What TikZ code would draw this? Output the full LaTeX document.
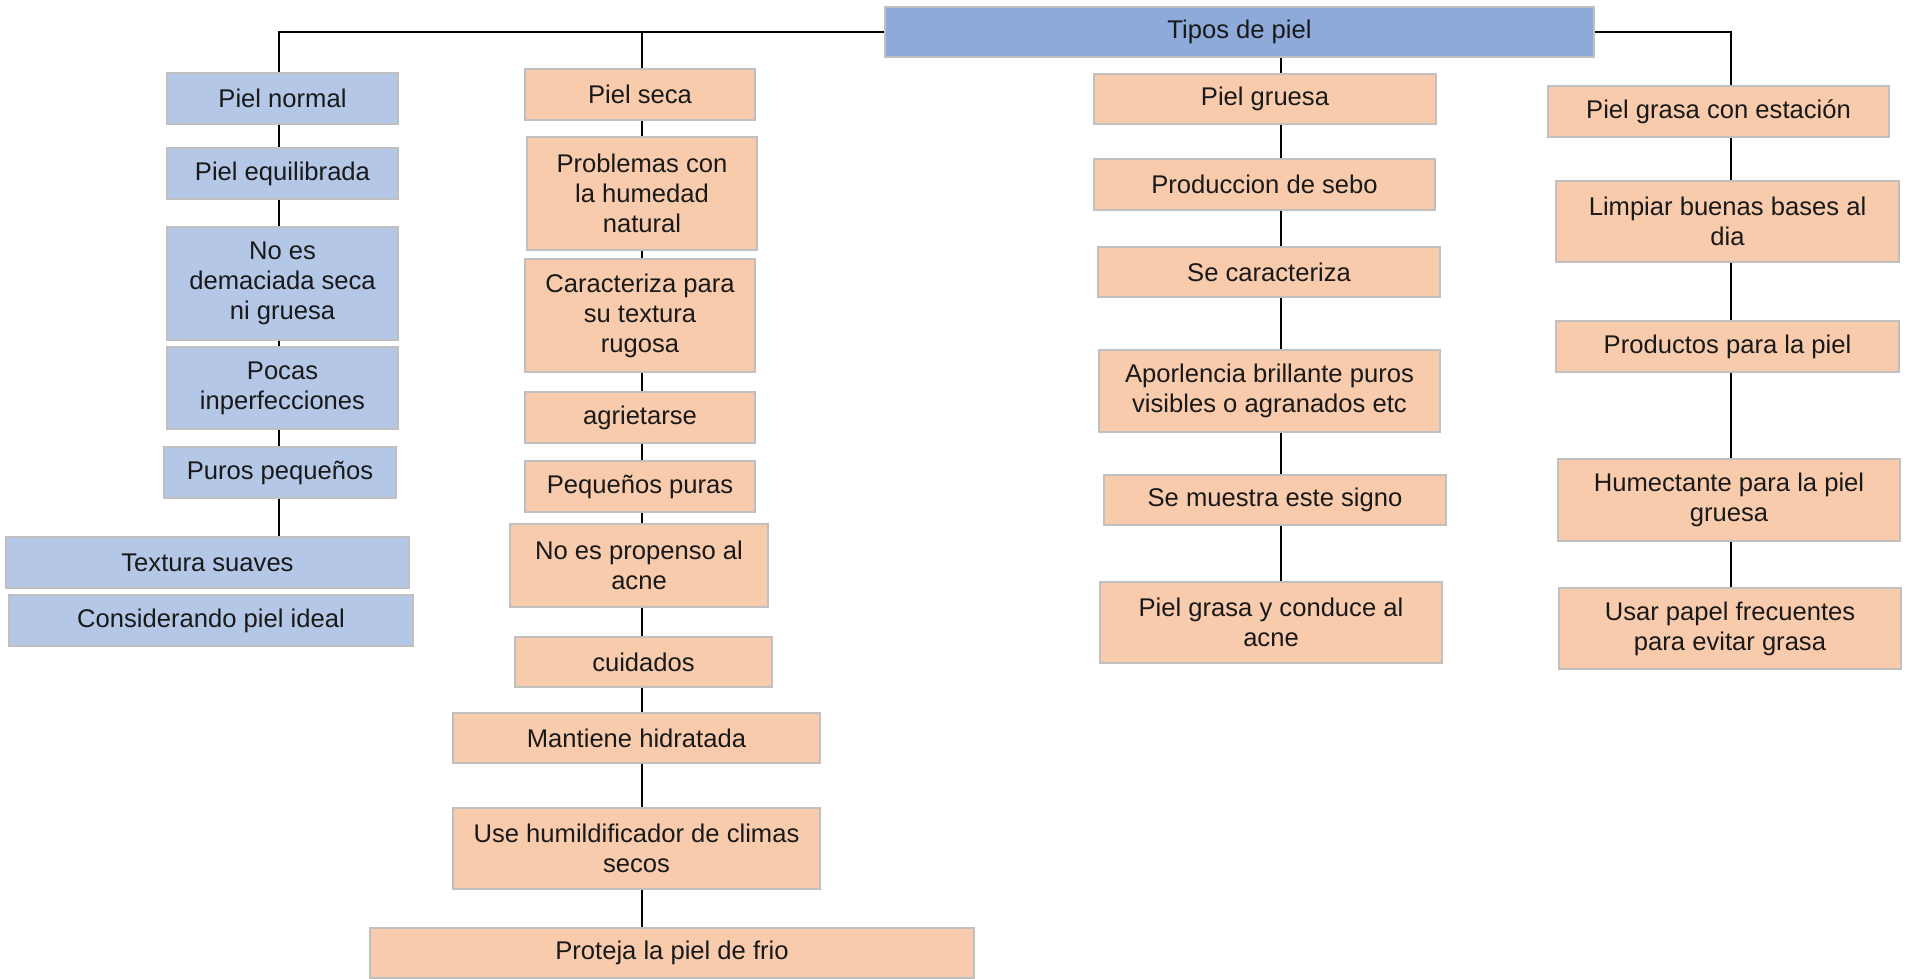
\documentclass[tikz,border=0pt]{standalone}
\usepackage{fontspec}
\setmainfont{Liberation Sans}
\definecolor{rootblue}{HTML}{8EAADB}
\definecolor{lightblue}{HTML}{B4C7E7}
\definecolor{peach}{HTML}{F8CBAD}
\definecolor{edge}{HTML}{C0C0C0}
\tikzset{
  box/.style={draw=edge, line width=0.7pt, inner sep=0pt, align=center,
    font=\fontsize{12.8}{15}\selectfont, text=black!90},
  bluebox/.style={box, fill=lightblue},
  rootbox/.style={box, fill=rootblue},
  peachbox/.style={box, fill=peach},
  conn/.style={draw=black, line width=0.8pt}
}
\newcommand{\bx}[7]{\node[#6, minimum width={(#4-#2)*0.5pt}, minimum height={(#5-#3)*0.5pt}] (#1) at ({(#2+#4)/2},{(#3+#5)/2}) {#7};}
\begin{document}
\begin{tikzpicture}[x=0.5pt,y=-0.5pt]
\useasboundingbox (0,0) rectangle (1910,979);
% root
\bx{root}{885}{7}{1594}{57}{rootbox}{Tipos de piel}
% left column
\bx{pn}{167}{73}{398}{124}{bluebox}{Piel normal}
\bx{pe}{167}{148}{398}{199}{bluebox}{Piel equilibrada}
\bx{ne}{167}{227}{398}{340}{bluebox}{No es\\demaciada seca\\ni gruesa}
\bx{pi}{167}{347}{398}{429}{bluebox}{Pocas\\inperfecciones}
\bx{pp}{164}{447}{396}{498}{bluebox}{Puros pequeños}
\bx{ts}{6}{537}{409}{588}{bluebox}{Textura suaves}
\bx{ci}{9}{595}{413}{646}{bluebox}{Considerando piel ideal}
% second column
\bx{ps}{525}{69}{755}{120}{peachbox}{Piel seca}
\bx{pc}{527}{137}{757}{250}{peachbox}{Problemas con\\la humedad\\natural}
\bx{ct}{525}{259}{755}{372}{peachbox}{Caracteriza para\\su textura\\rugosa}
\bx{ag}{525}{392}{755}{443}{peachbox}{agrietarse}
\bx{pq}{525}{461}{755}{512}{peachbox}{Pequeños puras}
\bx{np}{510}{524}{768}{607}{peachbox}{No es propenso al\\acne}
\bx{cu}{515}{637}{772}{687}{peachbox}{cuidados}
\bx{mh}{453}{713}{820}{763}{peachbox}{Mantiene hidratada}
\bx{uh}{453}{808}{820}{889}{peachbox}{Use humildificador de climas\\secos}
\bx{pf}{370}{928}{974}{978}{peachbox}{Proteja la piel de frio}
% third column
\bx{pg}{1094}{74}{1436}{124}{peachbox}{Piel gruesa}
\bx{prs}{1094}{159}{1435}{210}{peachbox}{Produccion de sebo}
\bx{sc}{1098}{247}{1440}{297}{peachbox}{Se caracteriza}
\bx{ab}{1099}{350}{1440}{432}{peachbox}{Aporlencia brillante puros\\visibles o agranados etc}
\bx{sm}{1104}{475}{1446}{525}{peachbox}{Se muestra este signo}
\bx{pgc}{1100}{582}{1442}{663}{peachbox}{Piel grasa y conduce al\\acne}
% fourth column
\bx{pge}{1548}{86}{1889}{137}{peachbox}{Piel grasa con estación}
\bx{lb}{1556}{181}{1899}{262}{peachbox}{Limpiar buenas bases al\\dia}
\bx{pl}{1556}{321}{1899}{372}{peachbox}{Productos para la piel}
\bx{hu}{1558}{459}{1900}{541}{peachbox}{Humectante para la piel\\gruesa}
\bx{up}{1559}{588}{1901}{669}{peachbox}{Usar papel frecuentes\\para evitar grasa}
% column lines
\coordinate (cL) at (279,0);
\coordinate (cS) at (642,0);
\coordinate (cM) at (1281,0);
\coordinate (cR) at (1731,0);
% top connectors
\draw[conn] (root.west) -- (cL |- root.west) -- (cL |- pn.north);
\draw[conn] (cS |- root.west) -- (cS |- ps.north);
\draw[conn] (root.east) -- (cR |- root.east) -- (cR |- pge.north);
\draw[conn] (cM |- root.south) -- (cM |- pg.north);
% left chain
\foreach \a/\b in {pn/pe, pe/ne, ne/pi, pi/pp, pp/ts}
  \draw[conn] (cL |- \a.south) -- (cL |- \b.north);
% second chain
\foreach \a/\b in {ps/pc, pc/ct, ct/ag, ag/pq, pq/np, np/cu, cu/mh, mh/uh, uh/pf}
  \draw[conn] (cS |- \a.south) -- (cS |- \b.north);
% third chain
\foreach \a/\b in {pg/prs, prs/sc, sc/ab, ab/sm, sm/pgc}
  \draw[conn] (cM |- \a.south) -- (cM |- \b.north);
% fourth chain
\foreach \a/\b in {pge/lb, lb/pl, pl/hu, hu/up}
  \draw[conn] (cR |- \a.south) -- (cR |- \b.north);
\end{tikzpicture}
\end{document}
